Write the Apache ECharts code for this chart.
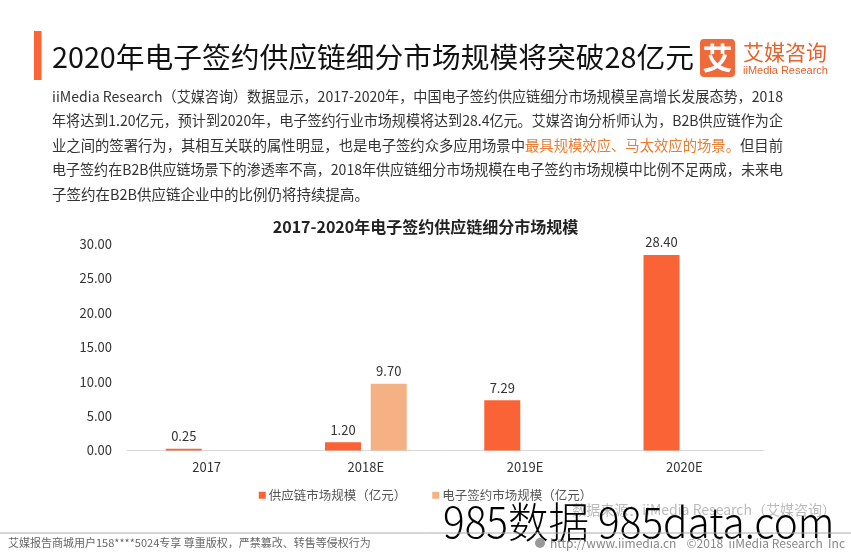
<!DOCTYPE html>
<html>
<head>
<meta charset="utf-8">
<script src="https://cdn.jsdelivr.net/npm/echarts@6/dist/echarts.min.js"></script>
<style>
html,body{margin:0;padding:0;background:#fff;}
#main{width:851px;height:553px;}
</style>
</head>
<body>
<div id="main"></div>
<script>
const categories = ['2017', '2018E', '2019E', '2020E'];
const supplyChainValues = [0.25, 1.20, 7.29, 28.40];
const eSignValues = [null, 9.70, null, null];
const seriesNames = ['供应链市场规模（亿元）', '电子签约市场规模（亿元）'];
const yMin = 0, yMax = 30, yInterval = 5;

const pageTitle = '2020年电子签约供应链细分市场规模将突破28亿元';
const chartTitle = '2017-2020年电子签约供应链细分市场规模';
const paraLines = [
  'iiMedia Research（艾媒咨询）数据显示，2017-2020年，中国电子签约供应链细分市场规模呈高增长发展态势，2018',
  '年将达到1.20亿元，预计到2020年，电子签约行业市场规模将达到28.4亿元。艾媒咨询分析师认为，B2B供应链作为企',
  ['业之间的签署行为，其相互关联的属性明显，也是电子签约众多应用场景中', '最具规模效应、马太效应的场景。', '但目前'],
  '电子签约在B2B供应链场景下的渗透率不高，2018年供应链细分市场规模在电子签约市场规模中比例不足两成，未来电',
  '子签约在B2B供应链企业中的比例仍将持续提高。'
];
const sourceText = '数据来源：iiMedia Research（艾媒咨询）';
const watermark = '985数据 985data.com';
const footerLeft = '艾媒报告商城用户158****5024专享 尊重版权，严禁篡改、转售等侵权行为';
const footerUrl = 'http://www.iimedia.cn';
const footerCopy = '©2018  iiMedia Research  Inc';

const FONT = '"Noto Sans CJK SC", "Noto Sans", sans-serif';
const measureCtx = document.createElement('canvas').getContext('2d');
function textWidth(str, size, weight) {
  measureCtx.font = (weight || 'normal') + ' ' + size + 'px ' + FONT;
  return measureCtx.measureText(str).width;
}

const PARA_SIZE = 14.5, PARA_LEFT = 52, PARA_RIGHT = 783;
const paraGraphics = paraLines.map((ln, i) => {
  const y = 96 + i * 24.5;
  const full = Array.isArray(ln) ? ln.join('') : ln;
  const w = textWidth(full, PARA_SIZE);
  const last = i === paraLines.length - 1;
  const sx = last ? 1 : (PARA_RIGHT - PARA_LEFT) / w;
  const el = { type: 'text', x: PARA_LEFT, y: y, scaleX: sx };
  if (Array.isArray(ln)) {
    el.style = {
      text: '{a|' + ln[0] + '}{b|' + ln[1] + '}{a|' + ln[2] + '}',
      verticalAlign: 'middle',
      rich: {
        a: { fontSize: PARA_SIZE, fontFamily: FONT, fill: '#333' },
        b: { fontSize: PARA_SIZE, fontFamily: FONT, fill: '#EE7B30' }
      }
    };
  } else {
    el.style = { text: ln, fontSize: PARA_SIZE, fontFamily: FONT, fill: '#333', verticalAlign: 'middle' };
  }
  return el;
});

const TITLE_SIZE = 28.5;
const titleScale = (694 - 52) / textWidth(pageTitle, TITLE_SIZE);
const WM_SIZE = 42;
const wmScale = (845 - 443) / textWidth(watermark, WM_SIZE);

const chart = echarts.init(document.getElementById('main'));
const option = {
  backgroundColor: '#fff',
  animation: false,
  title: {
    text: chartTitle, left: 'center', top: 214,
    textStyle: { fontSize: 16, fontWeight: 'bold', fontFamily: FONT, color: '#222' }
  },
  grid: { left: 127, right: 87, top: 244, bottom: 102.5 },
  legend: {
    data: seriesNames,
    left: 'center', top: 484,
    itemWidth: 7, itemHeight: 7, itemGap: 26,
    icon: 'rect',
    textStyle: { fontSize: 12.5, fontFamily: FONT, color: '#555', padding: [0, 0, 0, -2] }
  },
  xAxis: {
    type: 'category', data: categories,
    axisLine: { lineStyle: { color: '#d9d9d9' } },
    axisTick: { show: false },
    axisLabel: { fontSize: 13, fontFamily: FONT, color: '#333', margin: 10 }
  },
  yAxis: {
    type: 'value', min: yMin, max: yMax, interval: yInterval,
    axisLine: { show: false }, axisTick: { show: false },
    splitLine: { show: false },
    axisLabel: { fontSize: 13, fontFamily: FONT, color: '#333', margin: 15,
      formatter: v => v.toFixed(2) }
  },
  series: [
    {
      name: seriesNames[0], type: 'bar', data: supplyChainValues,
      barWidth: 36, barGap: '27%',
      itemStyle: { color: '#F96336' },
      label: { show: true, position: 'top', distance: 6, fontSize: 13, fontFamily: FONT, color: '#333',
        formatter: p => p.value.toFixed(2) }
    },
    {
      name: seriesNames[1], type: 'bar', data: eSignValues,
      barWidth: 36,
      itemStyle: { color: '#F4B183' },
      label: { show: true, position: 'top', distance: 6, fontSize: 13, fontFamily: FONT, color: '#333',
        formatter: p => p.value == null ? '' : p.value.toFixed(2) }
    }
  ],
  graphic: [
    { type: 'rect', shape: { x: 34, y: 31, width: 7.5, height: 49 }, style: { fill: '#FB6535' } },
    { type: 'text', x: 52, y: 57, scaleX: titleScale,
      style: { text: pageTitle, fontSize: TITLE_SIZE, fontFamily: FONT, fill: '#111', verticalAlign: 'middle' } },
    // logo
    { type: 'rect', shape: { x: 700, y: 39, width: 35, height: 38, r: 4 }, style: { fill: '#EE6A3A' } },
    { type: 'text', x: 717.5, y: 58, style: { text: '艾', fontSize: 30, fontWeight: 'bold', fontFamily: FONT, fill: '#fff', align: 'center', verticalAlign: 'middle' } },
    { type: 'text', x: 743, y: 52.5, style: { text: '艾媒咨询', fontSize: 21, fontFamily: FONT, fill: '#E8612C', verticalAlign: 'middle' } },
    { type: 'text', x: 743, y: 70.5, style: { text: 'iiMedia Research', fontSize: 11, fontFamily: 'Liberation Sans, Arial, sans-serif', fill: '#E8612C', verticalAlign: 'middle' } },
    ...paraGraphics,
    { type: 'text', right: 15, top: 503,
      style: { text: sourceText, fontSize: 14, fontFamily: FONT, fill: '#bbb' } },
    { type: 'text', x: 443, y: 522, scaleX: wmScale,
      style: { text: watermark, fontSize: WM_SIZE, fontWeight: 300, fontFamily: FONT, fill: '#000', verticalAlign: 'middle' } },
    { type: 'line', shape: { x1: 0, y1: 533, x2: 851, y2: 533 }, style: { stroke: '#aaa', lineWidth: 1 } },
    { type: 'text', x: 8, y: 543,
      style: { text: footerLeft, fontSize: 11, fontFamily: FONT, fill: '#666', verticalAlign: 'middle' } },
    { type: 'circle', shape: { cx: 540, cy: 543, r: 5 }, style: { fill: '#999' } },
    { type: 'text', x: 550, y: 543,
      style: { text: footerUrl, fontSize: 12, fontFamily: FONT, fill: '#888', verticalAlign: 'middle' } },
    { type: 'text', right: 6, y: 543,
      style: { text: footerCopy, fontSize: 12, fontFamily: FONT, fill: '#888', verticalAlign: 'middle' } }
  ]
};
chart.setOption(option);
</script>
</body>
</html>
